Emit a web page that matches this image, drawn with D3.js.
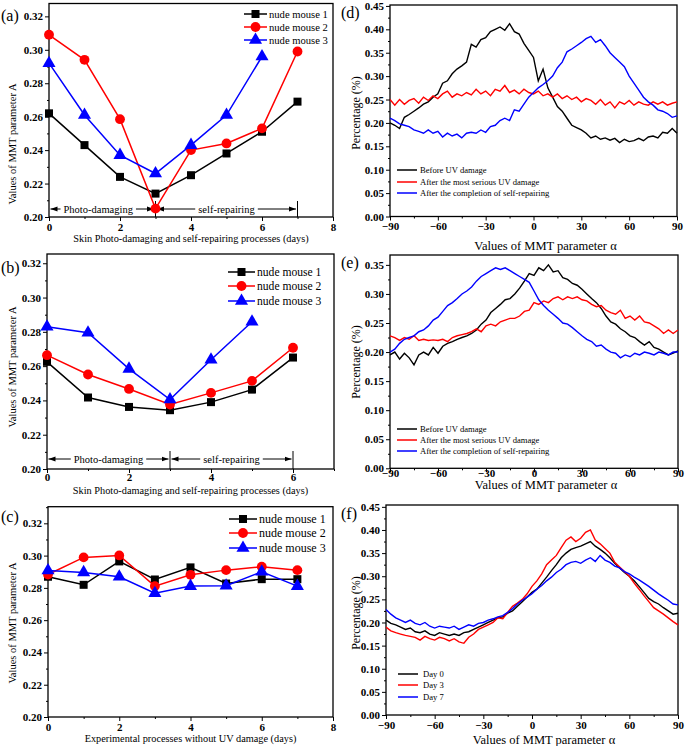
<!DOCTYPE html>
<html>
<head>
<meta charset="utf-8">
<script src="https://cdn.jsdelivr.net/npm/d3@7"></script>
<style>
body { margin: 0; background: #fff; }
text { font-family: "Liberation Serif", "Times New Roman", serif; }
</style>
</head>
<body>
<div id="wrap"></div>
<script>

// days on the x axis of the left panels
var days = [0, 1, 2, 3, 4, 5, 6, 7];

// (a) photo-damaging then self-repairing
var aMouse1 = [0.262, 0.243, 0.224, 0.214, 0.225, 0.238, 0.251, 0.269];
var aMouse2 = [0.309, 0.294, 0.2585, 0.205, 0.240, 0.244, 0.253, 0.299];
var aMouse3 = [0.292, 0.261, 0.237, 0.226, 0.243, 0.261, 0.296];

// (b)
var bMouse1 = [0.2625, 0.2417, 0.2362, 0.2343, 0.239, 0.2463, 0.265];
var bMouse2 = [0.2664, 0.2551, 0.2467, 0.2376, 0.2444, 0.2514, 0.2707];
var bMouse3 = [0.283, 0.2795, 0.2584, 0.2405, 0.2637, 0.2859];

// (c) no UV damage
var cMouse1 = [0.2869, 0.2819, 0.2964, 0.2852, 0.2927, 0.2827, 0.2854, 0.2854];
var cMouse2 = [0.2883, 0.2989, 0.3001, 0.2811, 0.2881, 0.291, 0.2931, 0.291];
var cMouse3 = [0.2908, 0.2896, 0.2869, 0.2767, 0.2811, 0.2813, 0.290, 0.2811];

var mouseNames = ["nude mouse 1", "nude mouse 2", "nude mouse 3"];

// alpha from -90 to 90 every 3 degrees
var alpha = d3.range(-90, 91, 3);

// (d)
var dBefore = [0.200, 0.195, 0.188, 0.212, 0.218, 0.225, 0.232, 0.240, 0.245, 0.255, 0.262, 0.285, 0.290, 0.305, 0.315, 0.322, 0.330, 0.368, 0.362, 0.378, 0.382,
  0.395, 0.400, 0.405, 0.398, 0.412, 0.395, 0.390, 0.370, 0.355, 0.340, 0.290, 0.315, 0.275, 0.255, 0.235, 0.225, 0.210, 0.195, 0.190, 0.185,
  0.178, 0.168, 0.172, 0.165, 0.168, 0.163, 0.167, 0.158, 0.165, 0.160, 0.162, 0.167, 0.162, 0.170, 0.172, 0.168, 0.180, 0.178, 0.188, 0.178];
var dWorst = [0.250, 0.238, 0.250, 0.240, 0.248, 0.252, 0.242, 0.255, 0.248, 0.258, 0.252, 0.262, 0.268, 0.255, 0.262, 0.258, 0.265, 0.260, 0.272, 0.262, 0.268,
  0.258, 0.272, 0.268, 0.280, 0.265, 0.270, 0.262, 0.272, 0.265, 0.262, 0.268, 0.258, 0.262, 0.255, 0.262, 0.252, 0.258, 0.250, 0.255, 0.245,
  0.252, 0.248, 0.240, 0.250, 0.238, 0.245, 0.232, 0.245, 0.240, 0.248, 0.238, 0.245, 0.240, 0.238, 0.245, 0.240, 0.245, 0.238, 0.242, 0.245];
var dRepaired = [0.210, 0.205, 0.198, 0.195, 0.192, 0.185, 0.182, 0.178, 0.185, 0.178, 0.182, 0.170, 0.178, 0.172, 0.176, 0.168, 0.178, 0.180, 0.178, 0.185, 0.180,
  0.192, 0.195, 0.205, 0.210, 0.205, 0.228, 0.225, 0.240, 0.255, 0.265, 0.275, 0.282, 0.290, 0.300, 0.318, 0.330, 0.352, 0.358, 0.365, 0.372,
  0.380, 0.385, 0.372, 0.378, 0.365, 0.350, 0.340, 0.330, 0.320, 0.300, 0.285, 0.270, 0.255, 0.245, 0.238, 0.228, 0.225, 0.220, 0.212, 0.215];

// (e)
var eBefore = [0.195, 0.200, 0.188, 0.198, 0.190, 0.178, 0.195, 0.200, 0.195, 0.208, 0.198, 0.210, 0.215, 0.218, 0.222, 0.225, 0.228, 0.232, 0.238, 0.248, 0.255,
  0.268, 0.275, 0.282, 0.290, 0.292, 0.300, 0.310, 0.322, 0.335, 0.332, 0.345, 0.340, 0.350, 0.338, 0.340, 0.328, 0.325, 0.318, 0.315, 0.308,
  0.300, 0.292, 0.285, 0.275, 0.262, 0.252, 0.248, 0.240, 0.235, 0.228, 0.225, 0.218, 0.212, 0.218, 0.208, 0.205, 0.200, 0.195, 0.198, 0.202];
var eWorst = [0.228, 0.225, 0.220, 0.225, 0.222, 0.228, 0.220, 0.222, 0.220, 0.221, 0.220, 0.222, 0.218, 0.225, 0.228, 0.230, 0.232, 0.235, 0.240, 0.235, 0.245,
  0.248, 0.245, 0.252, 0.255, 0.258, 0.258, 0.262, 0.270, 0.272, 0.285, 0.282, 0.288, 0.285, 0.292, 0.295, 0.290, 0.295, 0.292, 0.295, 0.290,
  0.288, 0.282, 0.278, 0.280, 0.272, 0.268, 0.265, 0.272, 0.258, 0.262, 0.255, 0.262, 0.252, 0.250, 0.245, 0.240, 0.232, 0.238, 0.232, 0.238];
var eRepaired = [0.200, 0.205, 0.215, 0.222, 0.225, 0.228, 0.235, 0.238, 0.245, 0.255, 0.260, 0.270, 0.280, 0.285, 0.292, 0.300, 0.305, 0.312, 0.322, 0.330, 0.335,
  0.340, 0.345, 0.342, 0.345, 0.340, 0.335, 0.330, 0.325, 0.320, 0.305, 0.290, 0.280, 0.272, 0.265, 0.258, 0.250, 0.248, 0.242, 0.235, 0.228,
  0.222, 0.218, 0.210, 0.212, 0.205, 0.200, 0.198, 0.190, 0.195, 0.192, 0.198, 0.195, 0.200, 0.198, 0.195, 0.200, 0.198, 0.195, 0.200, 0.200];

// (f)
var fDay0 = [0.205, 0.198, 0.195, 0.190, 0.185, 0.188, 0.180, 0.178, 0.182, 0.175, 0.172, 0.178, 0.175, 0.172, 0.175, 0.172, 0.178, 0.180, 0.185, 0.190, 0.195,
  0.200, 0.205, 0.210, 0.212, 0.220, 0.225, 0.235, 0.245, 0.255, 0.265, 0.272, 0.285, 0.298, 0.312, 0.325, 0.340, 0.350, 0.358, 0.362, 0.365,
  0.370, 0.375, 0.365, 0.358, 0.350, 0.340, 0.328, 0.318, 0.308, 0.300, 0.290, 0.278, 0.265, 0.252, 0.245, 0.240, 0.232, 0.225, 0.218, 0.220];
var fDay3 = [0.190, 0.182, 0.178, 0.175, 0.172, 0.170, 0.168, 0.162, 0.170, 0.165, 0.162, 0.168, 0.165, 0.160, 0.165, 0.158, 0.155, 0.168, 0.175, 0.185, 0.190,
  0.195, 0.200, 0.210, 0.208, 0.222, 0.235, 0.242, 0.250, 0.262, 0.278, 0.290, 0.305, 0.325, 0.335, 0.345, 0.362, 0.378, 0.385, 0.375, 0.382,
  0.395, 0.400, 0.378, 0.370, 0.360, 0.350, 0.330, 0.320, 0.310, 0.300, 0.285, 0.272, 0.258, 0.245, 0.232, 0.225, 0.218, 0.210, 0.202, 0.195];
var fDay7 = [0.228, 0.218, 0.210, 0.205, 0.200, 0.205, 0.198, 0.195, 0.200, 0.192, 0.188, 0.192, 0.190, 0.188, 0.192, 0.185, 0.190, 0.195, 0.192, 0.198, 0.200,
  0.205, 0.208, 0.212, 0.215, 0.222, 0.230, 0.240, 0.248, 0.255, 0.262, 0.272, 0.280, 0.290, 0.298, 0.308, 0.315, 0.325, 0.330, 0.332, 0.328,
  0.335, 0.340, 0.332, 0.345, 0.335, 0.330, 0.322, 0.318, 0.310, 0.305, 0.298, 0.292, 0.285, 0.278, 0.270, 0.262, 0.255, 0.248, 0.240, 0.238];

var uvNames = ["Before UV damage", "After the most serious UV damage", "After the completion of self-repairing"];
var dayNames = ["Day 0", "Day 3", "Day 7"];

var colors = ["#000000", "#ff0000", "#0000ff"];
var shapes = [d3.symbolSquare, d3.symbolCircle, d3.symbolTriangle];
var shapeSize = [64, 76, 74];


var svg = d3.select('#wrap').append("svg")
    .attr("width", 685)
    .attr("height", 746);

var defs = svg.append("defs");
defs.append("marker")
    .attr("id", "arrow")
    .attr("markerUnits", "userSpaceOnUse")
    .attr("markerWidth", 8).attr("markerHeight", 6)
    .attr("refX", 7).attr("refY", 3)
    .attr("orient", "auto")
    .append("path").attr("d", "M0,0.6 L7,3 L0,5.4 z").attr("fill", "#000");


// shared axis styling
var styleAxis = function(sel) {
    sel.select(".domain").remove();
    sel.selectAll("line").attr("stroke", "#000").attr("stroke-width", 1);
    sel.selectAll("text")
        .attr("font-family", "Liberation Serif, serif")
        .attr("font-weight", "bold")
        .attr("font-size", "11px")
        .attr("fill", "#000");
};

var minorOnly = function(all, major) {
    return all.filter(function(v) {
        return !major.some(function(m) { return Math.abs(m - v) < 1e-6; });
    });
};

var drawFrame = function(g, x, y, o, xMajor, xMinor, yMajor, yMinor, yFmt) {

    var xPad = o.xPad === undefined ? 2 : o.xPad;

    g.append("g").attr("transform", "translate(0," + o.y0 + ")")
        .call(d3.axisBottom(x).tickValues(xMajor).tickSize(4).tickSizeOuter(0).tickPadding(xPad).tickFormat(d3.format("d")))
        .call(styleAxis);
    g.append("g").attr("transform", "translate(0," + o.y0 + ")")
        .call(d3.axisBottom(x).tickValues(minorOnly(xMinor, xMajor)).tickSize(2).tickSizeOuter(0).tickFormat(""))
        .call(styleAxis);

    g.append("g").attr("transform", "translate(" + o.x0 + ",0)")
        .call(d3.axisLeft(y).tickValues(yMajor).tickSize(4).tickSizeOuter(0).tickPadding(2).tickFormat(d3.format(yFmt)))
        .call(styleAxis);
    g.append("g").attr("transform", "translate(" + o.x0 + ",0)")
        .call(d3.axisLeft(y).tickValues(minorOnly(yMinor, yMajor)).tickSize(2).tickSizeOuter(0).tickFormat(""))
        .call(styleAxis);

    g.append("rect")
        .attr("x", o.x0).attr("y", o.y1)
        .attr("width", o.x1 - o.x0).attr("height", o.y0 - o.y1)
        .attr("fill", "none").attr("stroke", "#000").attr("stroke-width", 1.3);

    g.append("text").attr("x", o.labX).attr("y", o.labY)
        .attr("font-size", "16px").text(o.label);

    g.append("text").attr("x", (o.x0 + o.x1) / 2 + (o.xtDx || 0)).attr("y", o.xtY)
        .attr("text-anchor", "middle").attr("font-size", o.xtFs).text(o.xTitle);

    g.append("text")
        .attr("transform", "translate(" + o.ytX + "," + o.ytY + ") rotate(-90)")
        .attr("text-anchor", "middle").attr("font-size", o.ytFs).text(o.yTitle);
};


// left panels: mice over days
var leftPanel = function(o) {

    var g = svg.append("g");
    var x = d3.scaleLinear().domain([0, o.xMax]).range([o.x0, o.x1]);
    var y = d3.scaleLinear().domain([0.20, o.yTop]).range([o.y0, o.y1]);

    o.xtFs = "10.3px";
    o.ytFs = "10.5px";
    drawFrame(g, x, y, o,
        d3.range(0, o.xMax + 0.01, 2), d3.range(0, o.xMax + 0.01, 1),
        d3.range(0.20, 0.3201, 0.02), d3.range(0.20, o.yTop, 0.01), ".2f");

    // phase annotation
    if (o.note) {
        var ny = o.note.y;
        var b = o.note.bounds;
        [b[1], b[2]].forEach(function(d) {
            g.append("line").attr("x1", x(d)).attr("x2", x(d))
                .attr("y1", ny - 8).attr("y2", o.y0)
                .attr("stroke", "#000").attr("stroke-width", 1);
        });
        o.note.texts.forEach(function(t, i) {
            var xa = x(b[i]), xb = x(b[i + 1]);
            var cx = (xa + xb) / 2 + t.dx;
            var tx = g.append("text").attr("x", cx).attr("y", ny + 3.5)
                .attr("text-anchor", "middle").attr("font-size", "10.5px").text(t.text);
            var w = tx.node().getComputedTextLength();
            g.append("line").attr("x1", cx - w / 2 - 3).attr("x2", xa + 1.5)
                .attr("y1", ny).attr("y2", ny).attr("stroke", "#000").attr("marker-end", "url(#arrow)");
            g.append("line").attr("x1", cx + w / 2 + 3).attr("x2", xb - 1.5)
                .attr("y1", ny).attr("y2", ny).attr("stroke", "#000").attr("marker-end", "url(#arrow)");
        });
    }

    var line = d3.line()
        .x(function(d) { return x(d[0]); })
        .y(function(d) { return y(d[1]); });

    o.series.forEach(function(vals, si) {
        var pts = vals.map(function(v, i) { return [days[i], v]; });
        g.append("path").datum(pts).attr("d", line)
            .attr("fill", "none").attr("stroke", colors[si]).attr("stroke-width", 1.5);
        g.selectAll(".m" + si).data(pts).enter().append("path")
            .attr("transform", function(d) { return "translate(" + x(d[0]) + "," + y(d[1]) + ")"; })
            .attr("d", d3.symbol().type(shapes[si]).size(shapeSize[si]))
            .attr("fill", colors[si]);
    });

    // legend
    var lg = o.legend;
    mouseNames.forEach(function(name, i) {
        var ly = lg.ys[i];
        g.append("line").attr("x1", lg.lx0).attr("x2", lg.lx1).attr("y1", ly).attr("y2", ly)
            .attr("stroke", colors[i]).attr("stroke-width", 1.5);
        g.append("path").attr("transform", "translate(" + (lg.lx0 + lg.lx1) / 2 + "," + ly + ")")
            .attr("d", d3.symbol().type(shapes[i]).size(shapeSize[i])).attr("fill", colors[i]);
        g.append("text").attr("x", lg.tx).attr("y", ly + 4).attr("font-size", lg.fs).text(name);
    });
};


// right panels: distribution over alpha
var rightPanel = function(o) {

    var g = svg.append("g");
    var x = d3.scaleLinear().domain([-90, 90]).range([o.x0, o.x1]);
    var y = d3.scaleLinear().domain([0, o.yTop]).range([o.y0, o.y1]);

    o.xtFs = "12.5px";
    o.ytFs = "12px";
    drawFrame(g, x, y, o,
        d3.range(-90, 91, 30), d3.range(-90, 91, 15),
        d3.range(0, o.yMaxTick + 0.001, 0.05), d3.range(0, o.yTop, 0.025), ".2f");

    var line = d3.line()
        .x(function(d) { return x(d[0]); })
        .y(function(d) { return y(d[1]); });

    o.series.forEach(function(vals, si) {
        var pts = vals.map(function(v, i) { return [alpha[i], v]; });
        g.append("path").datum(pts).attr("d", line)
            .attr("fill", "none").attr("stroke", colors[si]).attr("stroke-width", 1.4);
    });

    var lg = o.legend;
    o.names.forEach(function(name, i) {
        var ly = lg.ys[i];
        g.append("line").attr("x1", lg.lx0).attr("x2", lg.lx1).attr("y1", ly).attr("y2", ly)
            .attr("stroke", colors[i]).attr("stroke-width", 1.5);
        g.append("text").attr("x", lg.tx).attr("y", ly + 3).attr("font-size", "8.6px").text(name);
    });
};


leftPanel({
    x0: 49, x1: 333, y0: 217, y1: 3.5, xMax: 8, yTop: 0.3277,
    series: [aMouse1, aMouse2, aMouse3],
    label: "(a)", labX: 1, labY: 21,
    xTitle: "Skin Photo-damaging and self-repairing processes (days)", xtY: 242,
    yTitle: "Values of  MMT parameter A", ytX: 16, ytY: 144,
    legend: { lx0: 244, lx1: 267, tx: 269, ys: [14, 27, 40], fs: "10.6px" },
    note: { y: 209, bounds: [0, 3, 7], texts: [{ text: "Photo-damaging", dx: -4 }, { text: "self-repairing", dx: 0 }] }
});

leftPanel({
    x0: 47, x1: 334, y0: 469, y1: 254, xMax: 7, yTop: 0.3254, xPad: 0,
    series: [bMouse1, bMouse2, bMouse3],
    label: "(b)", labX: 1, labY: 273,
    xTitle: "Skin Photo-damaging and self-repairing processes (days)", xtY: 494, xtDx: 0,
    yTitle: "Values of  MMT parameter A", ytX: 16, ytY: 367,
    legend: { lx0: 228, lx1: 255, tx: 257, ys: [272, 286, 301], fs: "11.6px" },
    note: { y: 459, bounds: [0, 3, 6], texts: [{ text: "Photo-damaging", dx: 0 }, { text: "self-repairing", dx: 0 }] }
});

leftPanel({
    x0: 48, x1: 333, y0: 717, y1: 506.7, xMax: 8, yTop: 0.3303,
    series: [cMouse1, cMouse2, cMouse3],
    label: "(c)", labX: 1, labY: 522,
    xTitle: "Experimental processes without UV damage (days)", xtY: 742,
    yTitle: "Values of  MMT parameter A", ytX: 16, ytY: 623,
    legend: { lx0: 229, lx1: 257, tx: 259, ys: [519, 533, 548], fs: "12px" }
});

rightPanel({
    x0: 390, x1: 677, y0: 216.5, y1: 5, yTop: 0.452, yMaxTick: 0.45,
    series: [dBefore, dWorst, dRepaired], names: uvNames,
    label: "(d)", labX: 341, labY: 18,
    xTitle: "Values of MMT parameter \u03b1", xtY: 250, xtDx: 12,
    yTitle: "Percentage (%)", ytX: 360, ytY: 113,
    legend: { lx0: 397, lx1: 417, tx: 420, ys: [170, 182, 193] }
});

rightPanel({
    x0: 390, x1: 678, y0: 468.3, y1: 255, yTop: 0.367, yMaxTick: 0.35, xPad: -3,
    series: [eBefore, eWorst, eRepaired], names: uvNames,
    label: "(e)", labX: 341, labY: 268,
    xTitle: "Values of MMT parameter \u03b1", xtY: 489, xtDx: 12,
    yTitle: "Percentage (%)", ytX: 360, ytY: 362,
    legend: { lx0: 397, lx1: 417, tx: 420, ys: [429, 440, 451] }
});

rightPanel({
    x0: 386, x1: 678, y0: 715, y1: 505, yTop: 0.454, yMaxTick: 0.45,
    series: [fDay0, fDay3, fDay7], names: dayNames,
    label: "(f)", labX: 341, labY: 519,
    xTitle: "Values of MMT parameter \u03b1", xtY: 744, xtDx: 12,
    yTitle: "Percentage (%)", ytX: 360, ytY: 613,
    legend: { lx0: 398, lx1: 418, tx: 423, ys: [674, 685, 697] }
});

</script>
</body>
</html>
